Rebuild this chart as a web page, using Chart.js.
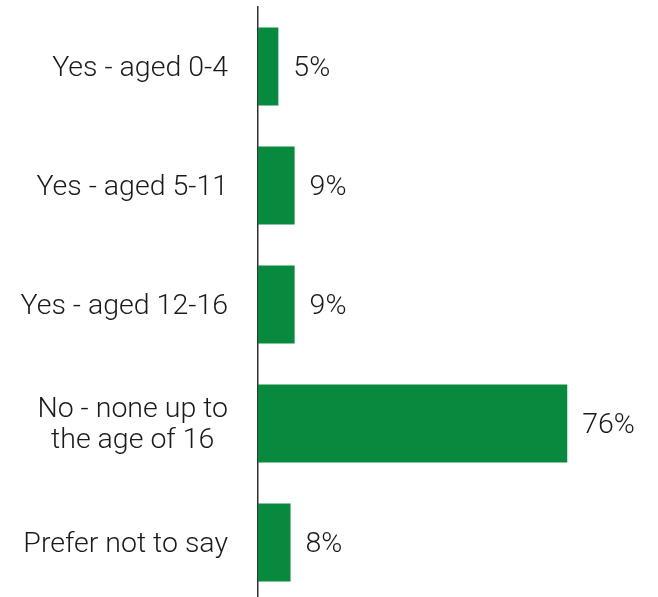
<!DOCTYPE html>
<html>
<head>
<meta charset="utf-8">
<script src="https://cdn.jsdelivr.net/npm/chart.js@4"></script>
<style>
  html, body { margin: 0; padding: 0; background: #fff; overflow: hidden; }
  #wrap { width: 658px; height: 602px; position: relative; }
</style>
</head>
<body>
<div id="wrap"><canvas id="chart"></canvas></div>
<script>
// answers and share of respondents (%)
const categories = [
  ['Yes - aged 0-4'],
  ['Yes - aged 5-11'],
  ['Yes - aged 12-16'],
  ['No - none up to', 'the age of 16'],
  ['Prefer not to say']
];
const values = [5, 9, 9, 76, 8];

const green = '#088a3e';
const textColor = '#1a1a1a';
const font = '300 28.5px Roboto';

// category labels: block right aligned to the axis, lines centred in it
const labelPlugin = {
  id: 'sideLabels',
  afterDraw(chart) {
    const ctx = chart.ctx;
    const y = chart.scales.y;
    ctx.save();
    ctx.font = font;
    ctx.fillStyle = textColor;
    ctx.textBaseline = 'middle';
    ctx.textAlign = 'center';
    const lineH = 31;
    categories.forEach((lines, i) => {
      const cy = y.getPixelForValue(i) + 2;
      const w = Math.max(...lines.map(l => ctx.measureText(l).width));
      const cx = 228 - w / 2;
      lines.forEach((l, j) => {
        ctx.fillText(l, cx, cy + (j - (lines.length - 1) / 2) * lineH);
      });
    });
    // value labels
    const meta = chart.getDatasetMeta(0);
    ctx.textAlign = 'left';
    meta.data.forEach((bar, i) => {
      ctx.fillText(values[i] + '%', bar.x + 15, bar.y + 2);
    });
    ctx.restore();
  }
};

new Chart(document.getElementById('chart'), {
  type: 'bar',
  data: {
    labels: categories.map(c => c.join(' ')),
    datasets: [{
      data: values,
      backgroundColor: green,
      borderWidth: 0,
      categoryPercentage: 1,
      barPercentage: 0.655
    }]
  },
  options: {
    indexAxis: 'y',
    responsive: true,
    maintainAspectRatio: false,
    animation: false,
    layout: { padding: { left: 258, top: 7, bottom: 0, right: 0 } },
    plugins: { legend: { display: false }, tooltip: { enabled: false } },
    scales: {
      x: {
        display: false,
        min: 0,
        max: 98.3
      },
      y: {
        ticks: { display: false },
        grid: { display: false, drawTicks: false },
        border: { display: true, color: '#333', width: 1.5 }
      }
    }
  },
  plugins: [labelPlugin]
});
</script>
</body>
</html>
